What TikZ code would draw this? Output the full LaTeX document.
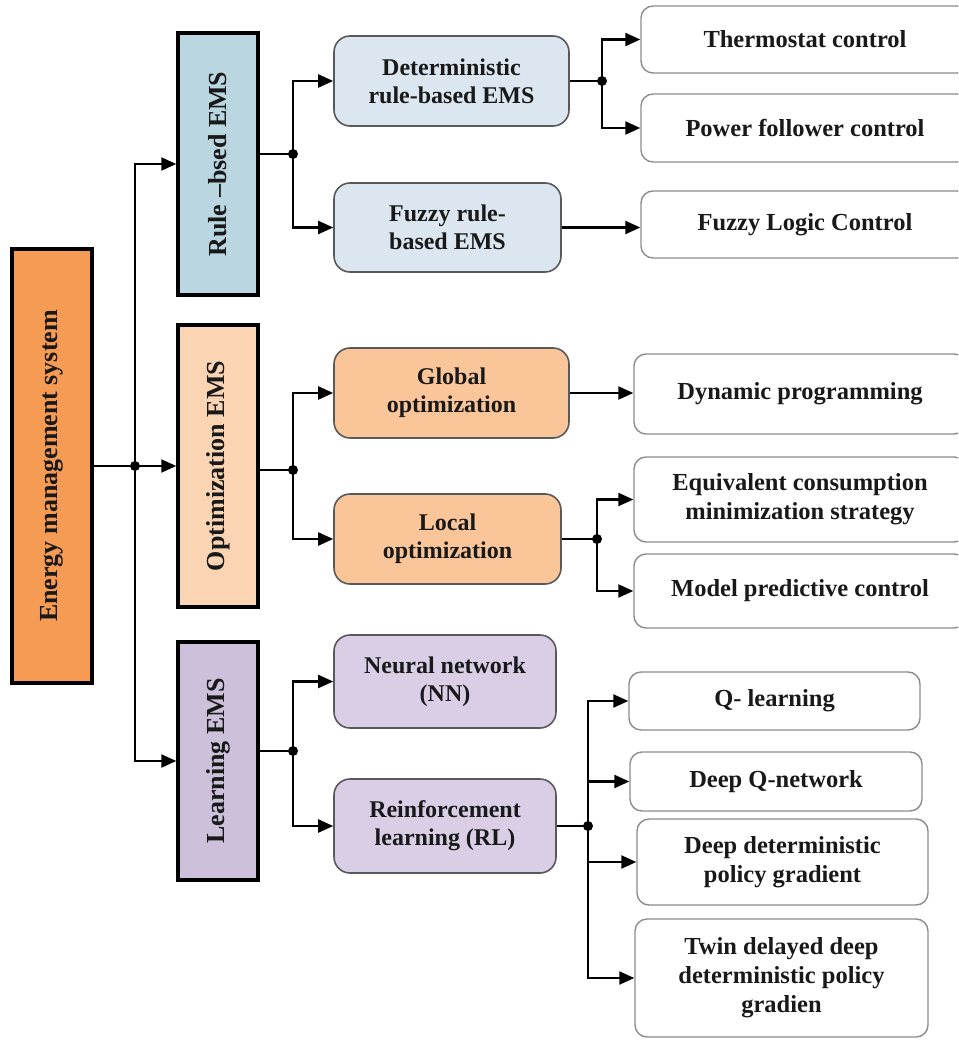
\documentclass[tikz,border=0pt]{standalone}
\usepackage{fontspec}
\setmainfont{Liberation Serif}
\usetikzlibrary{arrows.meta}

\definecolor{rootfill}{RGB}{246,155,84}
\definecolor{rulefill}{RGB}{186,214,224}
\definecolor{optfill}{RGB}{251,212,180}
\definecolor{learnfill}{RGB}{204,192,218}
\definecolor{detfill}{RGB}{220,230,241}
\definecolor{globfill}{RGB}{250,197,152}
\definecolor{nnfill}{RGB}{218,206,230}

\begin{document}
\begin{tikzpicture}[x=1pt, y=1pt,
  box/.style={draw, inner sep=0pt, align=center, text=black!90,
              font=\bfseries\fontsize{24}{28}\selectfont},
  lvlone/.style={box, rotate=90, line width=3.5pt, minimum height=80pt,
                 font=\bfseries\fontsize{26}{30}\selectfont},
  lvltwo/.style={box, rounded corners=16pt, draw=black!65, line width=1.6pt},
  lvlthree/.style={box, rounded corners=12pt, draw=black!45, line width=1.4pt,
                   fill=white, font=\bfseries\fontsize{24.5}{29}\selectfont},
  link/.style={line width=2.2pt},
  arr/.style={link, -{Triangle[length=15pt, width=13pt]}}]

\useasboundingbox (0,0) rectangle (958,-1040);
\clip (0,0) rectangle (958,-1040);

% the root and the three families
\node[lvlone, fill=rootfill, minimum width=434pt] (root) at (52,-466)
  {Energy management system};
\node[lvlone, fill=rulefill, minimum width=262pt] (rule) at (218,-164)
  {Rule –bsed EMS};
\node[lvlone, fill=optfill, minimum width=282pt] (opt) at (218,-466)
  {Optimization EMS};
\node[lvlone, fill=learnfill, minimum width=238pt] (learn) at (218,-761)
  {Learning EMS};

% the second level
\node[lvltwo, fill=detfill, minimum width=235pt, minimum height=90pt] (det)
  at (451.5,-81) {Deterministic\\rule-based EMS};
\node[lvltwo, fill=detfill, minimum width=227pt, minimum height=89pt] (fuzzy)
  at (447.5,-227.5) {Fuzzy rule-\\based EMS};
\node[lvltwo, fill=globfill, minimum width=235pt, minimum height=90pt] (glob)
  at (451.5,-393) {Global\\optimization};
\node[lvltwo, fill=globfill, minimum width=227pt, minimum height=90pt] (local)
  at (447.5,-539) {Local\\optimization};
\node[lvltwo, fill=nnfill, minimum width=222pt, minimum height=93pt] (nn)
  at (445,-681.5) {Neural network\\(NN)};
\node[lvltwo, fill=nnfill, minimum width=222pt, minimum height=94pt] (rl)
  at (445,-826) {Reinforcement\\learning (RL)};

% the methods
\node[lvlthree, minimum width=328pt, minimum height=67pt] (therm)
  at (805,-39.5) {Thermostat control};
\node[lvlthree, minimum width=328pt, minimum height=68pt] (power)
  at (805,-128) {Power follower control};
\node[lvlthree, minimum width=328pt, minimum height=67pt] (flc)
  at (805,-224.5) {Fuzzy Logic Control};
\node[lvlthree, minimum width=332pt, minimum height=80pt] (dp)
  at (800,-394) {Dynamic programming};
\node[lvlthree, minimum width=332pt, minimum height=85pt] (ecms)
  at (800,-499.5) {Equivalent consumption\\minimization strategy};
\node[lvlthree, minimum width=332pt, minimum height=74pt] (mpc)
  at (800,-591) {Model predictive control};
\node[lvlthree, minimum width=291pt, minimum height=58pt] (ql)
  at (774.5,-701) {Q- learning};
\node[lvlthree, minimum width=292pt, minimum height=59pt] (dqn)
  at (776,-781.5) {Deep Q-network};
\node[lvlthree, minimum width=291pt, minimum height=86pt] (ddpg)
  at (782.5,-862) {Deep deterministic\\policy gradient};
\node[lvlthree, minimum width=293pt, minimum height=118pt] (td3)
  at (781.5,-978) {Twin delayed deep\\deterministic policy\\gradien};

% junction points
\coordinate (jroot) at (135,-466);
\coordinate (jrule) at (293,-154);
\coordinate (jopt) at (293,-470);
\coordinate (jlearn) at (293,-751);
\coordinate (jdet) at (602,-81);
\coordinate (jlocal) at (597,-539);
\coordinate (jrl) at (588,-826);

% root to families
\draw[arr] (root.south) -- (opt.north);
\draw[arr] (jroot) |- (rule.north);
\draw[arr] (jroot) |- (learn.north);

% families to second level
\draw[link] (jrule -| rule.south) -- (jrule);
\draw[arr] (jrule) |- (det.west);
\draw[arr] (jrule) |- (fuzzy.west);
\draw[link] (jopt -| opt.south) -- (jopt);
\draw[arr] (jopt) |- (glob.west);
\draw[arr] (jopt) |- (local.west);
\draw[link] (jlearn -| learn.south) -- (jlearn);
\draw[arr] (jlearn) |- (nn.west);
\draw[arr] (jlearn) |- (rl.west);

% second level to methods
\draw[link] (det.east) -- (jdet);
\draw[arr] (jdet) |- (therm.west);
\draw[arr] (jdet) |- (power.west);
\draw[arr] (fuzzy.east) -- (fuzzy.east -| flc.west);
\draw[arr] (glob.east) -- (glob.east -| dp.west);
\draw[link] (local.east) -- (jlocal);
\draw[arr] (jlocal) |- (ecms.west);
\draw[arr] (jlocal) |- (mpc.west);
\draw[link] (rl.east) -- (jrl);
\draw[arr] (jrl) |- (ql.west);
\draw[arr] (jrl) |- (dqn.west);
\draw[arr] (jrl) |- (ddpg.west);
\draw[arr] (jrl) |- (td3.west);

% the dots
\foreach \j in {jroot, jrule, jopt, jlearn, jdet, jlocal, jrl}
  \fill (\j) circle (5pt);

\end{tikzpicture}
\end{document}
